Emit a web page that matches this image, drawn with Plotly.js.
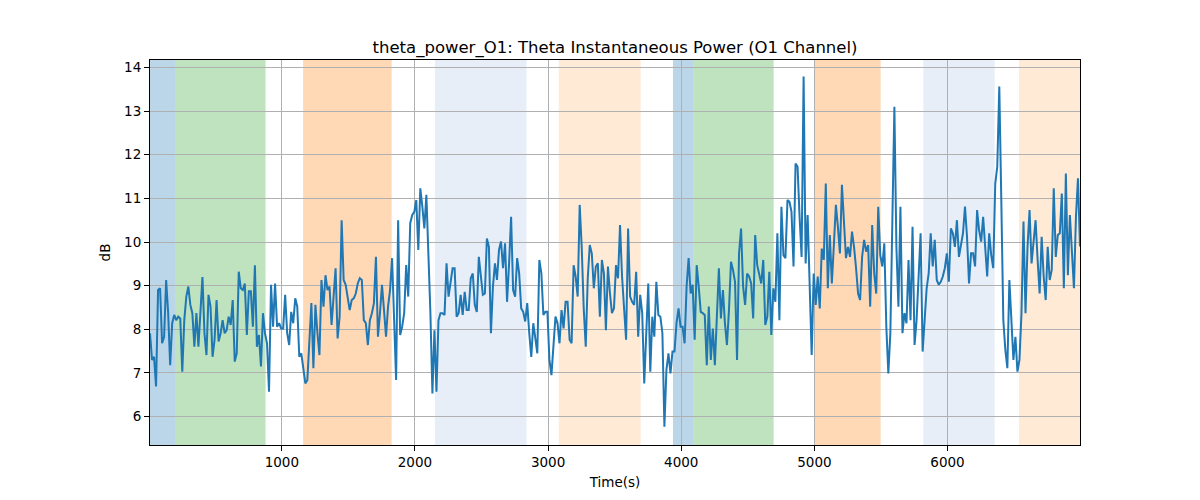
<!DOCTYPE html>
<html>
<head>
<meta charset="utf-8">
<script src="https://cdn.plot.ly/plotly-3.0.1.min.js"></script>
<style>html,body{margin:0;padding:0;background:#fff;}#chart{width:1200px;height:500px;}</style>
</head>
<body>
<div id="chart"></div>
<script>
// Sampling of the series (seconds)
const tStart = 10;
const tStep = 1000 / 66;

// theta power (dB), read segment by segment (each ~1000 s)
const seg1 = [7.91,7.30,7.37,6.69,8.90,8.94,7.68,7.83,9.13,8.37,7.18,8.14,8.33,8.21,8.29,8.25,7.03,8.21,8.75,8.98,8.56,8.37,7.60,8.37,7.60,8.37,9.20,7.91,7.41,8.79,8.52,7.37,7.76,8.67,7.72,7.91,8.21,7.91,7.98,8.29,8.10,8.67,7.26,7.45,9.32,8.94,8.90,9.05,7.87,8.87,8.87,8.06,9.47,7.60,7.87,7.15,8.37,7.91,7.68,6.57,9.02,8.06,9.05,8.06,8.14,8.02];
const seg2 = [8.02,8.79,7.91,7.64,8.40,8.14,8.71,8.52,7.37,7.45,7.07,6.76,6.84,7.76,8.60,7.11,8.56,7.91,7.41,9.13,8.52,9.24,8.90,8.98,8.10,8.75,9.40,7.79,8.29,10.50,9.13,9.02,8.75,8.44,8.67,8.71,8.82,9.05,9.17,9.13,8.21,8.14,7.64,8.21,8.37,8.60,9.66,7.83,8.37,9.02,8.44,7.83,8.52,8.90,9.63,8.06,6.84,10.50,7.87,8.06,8.37,9.47,8.75,10.43,10.62,10.69];
const seg3 = [10.96,9.82,11.23,10.81,10.31,11.08,9.89,8.37,6.53,7.98,6.57,8.21,8.37,8.37,8.33,9.51,8.75,9.05,9.40,9.40,8.29,8.37,8.79,8.33,8.86,8.44,8.44,9.17,9.28,8.56,8.40,9.66,9.21,8.79,8.82,10.08,9.89,7.91,8.98,9.51,9.13,9.82,10.01,9.40,9.97,8.63,9.51,10.58,8.90,8.75,9.63,9.28,8.48,8.40,8.18,8.60,7.91,7.37,8.14,7.83,7.45,9.59,9.28,8.33,8.40,8.40];
const seg4 = [7.30,6.95,7.60,8.29,8.14,7.68,8.44,8.02,8.63,8.63,7.76,7.68,9.47,9.21,8.75,10.85,9.89,8.48,7.60,9.17,9.93,9.74,8.94,9.44,9.51,8.29,9.59,9.28,7.98,9.44,8.82,8.37,8.48,9.47,9.17,10.39,9.21,8.37,7.76,10.31,8.75,8.63,8.56,9.32,7.83,8.79,8.37,6.76,8.06,9.05,7.03,8.29,7.83,9.09,8.33,8.29,7.91,5.77,7.07,7.45,6.99,7.49,7.49,8.14,8.48,8.06];
const seg5 = [8.06,7.68,8.98,9.63,8.82,9.02,7.76,9.47,8.98,8.40,8.37,8.33,7.18,8.52,7.30,8.02,7.18,8.37,9.40,8.25,8.90,8.14,7.64,8.44,9.55,9.36,9.09,7.30,9.74,10.31,8.98,8.56,9.28,9.21,9.05,8.25,10.16,9.47,9.28,9.05,9.59,8.10,8.29,9.32,7.87,8.94,8.63,10.20,8.21,10.81,9.70,9.63,10.96,10.92,10.69,9.44,11.80,11.73,10.58,9.66,13.79,9.51,10.62,8.90,7.41,9.28];
const seg6 = [8.56,9.21,8.48,9.85,9.59,11.34,8.94,10.16,9.05,9.93,10.85,10.35,9.74,11.31,10.31,9.63,9.89,9.66,10.24,9.89,9.40,8.82,8.67,9.66,10.05,9.78,9.93,8.52,10.39,9.28,8.82,10.81,9.70,9.44,9.97,8.06,6.99,7.91,10.50,13.10,9.89,8.52,10.81,7.91,8.37,8.14,9.59,8.21,10.35,7.64,8.21,9.36,10.20,7.49,8.29,8.94,9.28,10.20,9.44,10.05,9.13,9.02,9.09,9.21,9.40,9.74];
const seg7 = [9.09,10.31,10.20,9.89,10.50,9.66,9.93,10.20,10.81,10.12,9.05,9.74,9.74,9.44,10.73,10.27,10.01,10.58,9.89,9.21,10.20,9.70,9.40,11.34,11.73,13.56,10.96,8.21,7.53,7.11,9.13,8.21,7.30,7.83,7.03,7.30,8.37,10.47,8.37,9.89,10.73,9.51,9.97,10.50,9.59,8.82,10.12,9.21,8.67,9.89,9.13,9.36,11.23,9.66,10.16,10.20,11.11,8.94,11.57,9.24,10.62,9.74,8.94,10.58,11.46,9.90];

// Shaded stage intervals (seconds) and their colours
const bandStarts = [10, 200, 1160, 2150, 3080, 3938, 4090, 5002, 5818, 6537];
const bandEnds   = [200, 878, 1825, 2838, 3695, 4090, 4694, 5498, 6354, 6995];
const bandColors = ['rgba(31,119,180,0.3)','rgba(44,160,44,0.3)','rgba(255,127,14,0.3)','rgba(174,199,232,0.3)','rgba(255,187,120,0.3)',
                    'rgba(31,119,180,0.3)','rgba(44,160,44,0.3)','rgba(255,127,14,0.3)','rgba(174,199,232,0.3)','rgba(255,187,120,0.3)'];

const xTicks = [1000, 2000, 3000, 4000, 5000, 6000];
const yTicks = [6, 7, 8, 9, 10, 11, 12, 13, 14];

const power = [].concat(seg1, seg2, seg3, seg4, seg5, seg6, seg7);
const time = power.map((_, i) => tStart + i * tStep);

const shapes = bandStarts.map((s, i) => ({
  type: 'rect', xref: 'x', yref: 'paper', x0: s, x1: bandEnds[i], y0: 0, y1: 1,
  fillcolor: bandColors[i], line: {width: 0}, layer: 'below'
}));

const font = {family: 'DejaVu Sans, sans-serif', color: '#000', size: 13};

Plotly.newPlot('chart', [{
  x: time, y: power, type: 'scatter', mode: 'lines',
  line: {color: '#1f77b4', width: 2}, hoverinfo: 'skip', showlegend: false
}], {
  width: 1200, height: 500,
  margin: {l: 150, r: 120, t: 60, b: 55, pad: 0},
  paper_bgcolor: '#fff', plot_bgcolor: '#fff',
  font: font,
  title: {text: 'theta_power_O1: Theta Instantaneous Power (O1 Channel)', font: {family: 'DejaVu Sans, sans-serif', size: 16.5, color: '#000'}, x: 0.5, xref: 'paper', xanchor: 'center', y: 1, yref: 'paper', yanchor: 'bottom', pad: {b: 7}},
  xaxis: {
    range: [10, 6995], tickvals: xTicks, ticktext: xTicks.map(String),
    showgrid: true, gridcolor: '#b0b0b0', gridwidth: 1, zeroline: false,
    showline: true, linecolor: '#000', linewidth: 1, mirror: true,
    ticks: 'outside', ticklen: 5, tickcolor: '#000', tickfont: {size: 13.5},
    title: {text: 'Time(s)', font: {size: 13.5}, standoff: 8}
  },
  yaxis: {
    range: [5.35, 14.17], tickvals: yTicks, ticktext: yTicks.map(String),
    showgrid: true, gridcolor: '#b0b0b0', gridwidth: 1, zeroline: false,
    showline: true, linecolor: '#000', linewidth: 1, mirror: true,
    ticks: 'outside', ticklen: 5, tickcolor: '#000', tickfont: {size: 13.5},
    title: {text: 'dB', font: {size: 13.5}, standoff: 10}
  },
  shapes: shapes
}, {staticPlot: true, displayModeBar: false});
</script>
</body>
</html>
